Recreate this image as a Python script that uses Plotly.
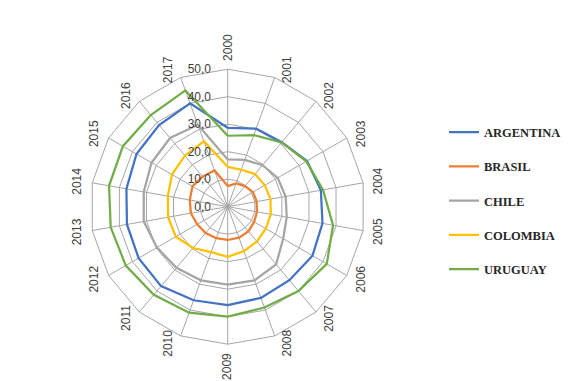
import math
import plotly.graph_objects as go

years = [str(y) for y in range(2000, 2018)]
argentina = [28.7, 30.2, 30.6, 33.3, 34.4, 35.0, 35.6, 34.9, 35.3, 35.8, 36.2, 37.7, 37.4, 37.2, 37.4, 38.3, 38.8, 40.0]
brasil    = [7.5, 9.0, 9.8, 10.6, 10.7, 10.8, 11.1, 11.7, 12.0, 12.1, 12.2, 12.5, 12.8, 13.6, 14.0, 14.8, 14.3, 14.0]
chile     = [17.2, 18.1, 19.7, 21.0, 21.4, 21.8, 23.3, 27.4, 28.5, 28.3, 28.5, 29.0, 29.7, 31.0, 31.0, 32.0, 32.6, 31.7]
colombia  = [14.5, 14.3, 15.5, 15.6, 15.8, 15.9, 16.0, 16.5, 17.2, 18.2, 17.6, 19.6, 21.8, 22.0, 22.1, 23.4, 24.2, 25.3]
uruguay   = [25.8, 27.7, 30.5, 33.0, 35.2, 38.9, 41.6, 40.0, 39.0, 40.0, 41.0, 41.8, 42.8, 43.2, 43.8, 44.0, 43.5, 45.0]

series_names = ["ARGENTINA", "BRASIL", "CHILE", "COLOMBIA", "URUGUAY"]
series_values = [argentina, brasil, chile, colombia, uruguay]
series_colors = ["#4472C4", "#ED7D31", "#A5A5A5", "#FFC000", "#70AD47"]

radial_ticks = [0, 10, 20, 30, 40, 50]

W, H = 578, 381
CX, CY, R = 227.7, 206.7, 137.5

fig = go.Figure()
for name, vals, col in zip(series_names, series_values, series_colors):
    fig.add_trace(go.Scatterpolar(
        r=vals + [vals[0]], theta=years + [years[0]], mode="lines", name=name,
        legendgroup=name, line=dict(color=col, width=2.25), hoverinfo="skip"))

dom_x = [(CX - R) / W, (CX + R) / W]
dom_y = [(H - CY - R) / H, (H - CY + R) / H]

grid = "#A6A6A6"
fig.update_layout(
    width=W, height=H, margin=dict(l=0, r=0, t=0, b=0),
    paper_bgcolor="white", separators=",.",
    polar=dict(
        domain=dict(x=dom_x, y=dom_y), bgcolor="white", gridshape="linear",
        radialaxis=dict(range=[0, 50], tickvals=radial_ticks, tickformat=".1f",
                        angle=90, side="counterclockwise", tickangle=90,
                        showline=False, ticks="outside", ticklen=12,
                        tickcolor="rgba(0,0,0,0)", gridcolor=grid, gridwidth=1,
                        tickfont=dict(family="Liberation Sans", size=12, color="#404040")),
        angularaxis=dict(rotation=90, direction="clockwise", categoryorder="array",
                         categoryarray=years, showticklabels=False, ticks="",
                         showline=True, linecolor=grid, linewidth=1,
                         gridcolor=grid, gridwidth=1),
    ),
    legend=dict(x=444 / W, xanchor="left", y=1 - 201 / H, yanchor="middle",
                font=dict(family="Liberation Serif", size=12.5, color="#262626", weight="bold"),
                tracegroupgap=15, bgcolor="rgba(0,0,0,0)"),
    showlegend=True,
)

annotations = []
n = len(years)
for i, y in enumerate(years):
    a = math.radians(360 * i / n)
    dx, dy = math.sin(a), -math.cos(a)
    vx, vy = CX + R * dx, CY + R * dy
    if abs(dx) < 1e-6:
        px, py = vx, vy + dy * 22
    else:
        px = vx + dx * 4 + math.copysign(11, dx)
        py = vy + dy * 8
    annotations.append(dict(x=px / W, y=1 - py / H, xref="paper", yref="paper",
                            text=y, showarrow=False, textangle=-90,
                            xanchor="center", yanchor="middle",
                            font=dict(family="Liberation Sans", size=12, color="#404040")))
fig.update_layout(annotations=annotations)

fig.write_html("out.html", config={"displayModeBar": False},
               post_script="document.body.style.margin='0';document.body.style.padding='0';")
